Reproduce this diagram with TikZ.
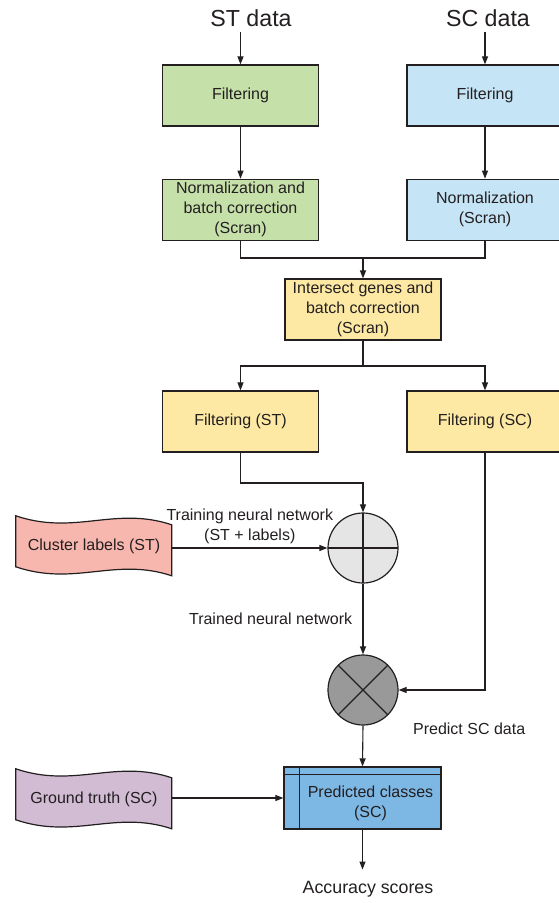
\documentclass[tikz,border=0pt]{standalone}
\usepackage{fontspec}
\setmainfont{Liberation Sans}
\usetikzlibrary{arrows.meta,positioning,calc,backgrounds}
\definecolor{inkgray}{RGB}{35,31,32}
\definecolor{stgreen}{RGB}{198,224,170}
\definecolor{scblue}{RGB}{197,228,245}
\definecolor{mergeyellow}{RGB}{253,233,164}
\definecolor{labelpink}{RGB}{248,183,174}
\definecolor{truthlilac}{RGB}{210,188,212}
\definecolor{predblue}{RGB}{125,183,228}
\definecolor{addgray}{RGB}{229,229,229}
\definecolor{mulgray}{RGB}{153,153,153}

% wavy input shape behind a node
\newcommand{\wavyback}[2]{%
  \begin{scope}[on background layer,shift={(#1.north west)}]
    \draw[draw=inkgray,line width=1.2pt,fill=#2] (0,-5) .. controls (59,15) and (99,-15) .. (156,4)
      -- (156,55) .. controls (99,36) and (59,66) .. (0,46) -- cycle;
  \end{scope}}

\begin{document}
\begin{tikzpicture}[x=1pt,y=-1pt,>={Triangle[length=8pt,width=6pt]},
          font=\fontsize{16}{20}\selectfont,text=inkgray,
          stepbox/.style={draw=inkgray,line width=1.2pt,minimum width=156pt,
                          minimum height=61pt,align=center,inner sep=2pt},
          wavy/.style={minimum width=156pt,minimum height=50pt,inner sep=0pt},
          junction/.style={circle,draw=inkgray,line width=1.2pt,
                           minimum size=70pt,inner sep=0pt},
          headtext/.style={font=\fontsize{23.2}{28}\selectfont,anchor=base,inner sep=5pt},
          flow/.style={draw=inkgray,line width=1.1pt}]
  \useasboundingbox (0,0) rectangle (558,903);

  % inputs
  \node[headtext] (sthead) at (251,26.7) {ST data};
  \node[headtext] (schead) at (488,26.7) {SC data};

  % preprocessing
  \node[stepbox,fill=stgreen] (filtst) at (240.5,95.5) {Filtering};
  \node[stepbox,fill=stgreen,below=52pt of filtst] (normst)
    {Normalization and\\batch correction\\(Scran)};
  \node[stepbox,fill=scblue] (filtsc) at (485,95.5) {Filtering};
  \node[stepbox,fill=scblue,below=52pt of filtsc] (normsc) {Normalization\\(Scran)};
  \node[stepbox,fill=mergeyellow] (inter) at (363,309.5)
    {Intersect genes and\\batch correction\\(Scran)};
  \node[stepbox,fill=mergeyellow] (filtst2) at (240.5,421.5) {Filtering (ST)};
  \node[stepbox,fill=mergeyellow] (filtsc2) at (485,421.5) {Filtering (SC)};

  % network
  \node[junction,fill=addgray,path picture={
      \draw[inkgray,line width=1.2pt]
        (path picture bounding box.north) -- (path picture bounding box.south)
        (path picture bounding box.west) -- (path picture bounding box.east);}]
    (plus) at (363,548) {};
  \node[junction,fill=mulgray,path picture={
      \draw[inkgray,line width=1.2pt]
        (path picture bounding box.north west) -- (path picture bounding box.south east)
        (path picture bounding box.north east) -- (path picture bounding box.south west);}]
    (times) at (363,690) {};

  \node[wavy] (clus) at (94,546) {Cluster labels (ST)};
  \node[wavy] (truth) at (94,799) {Ground truth (SC)};
  \wavyback{clus}{labelpink}
  \wavyback{truth}{truthlilac}

  \node[stepbox,fill=predblue,minimum width=157pt,minimum height=62pt] (pred) at (362.5,798) {};
  \draw[inkgray,line width=1.2pt]
    ([xshift=16pt]pred.north west) -- ([xshift=16pt]pred.south west)
    ([yshift=-8pt]pred.north west) -- ([yshift=-8pt]pred.north east);
  \node[align=center] (predtxt) at ($(pred.center)+(8,5)$) {Predicted classes\\(SC)};

  \node[anchor=base,font=\fontsize{17.8}{20}\selectfont,inner ysep=11pt] (acc)
    at (368,893) {Accuracy scores};

  % connectors
  \draw[flow,->] (sthead.south -| filtst.north) -- (filtst.north);
  \draw[flow,->] (schead.south -| filtsc.north) -- (filtsc.north);
  \draw[flow,->] (filtst) -- (normst);
  \draw[flow,->] (filtsc) -- (normsc);
  \coordinate (merge) at (363,258);
  \draw[flow] (normst.south) |- (merge) -| (normsc.south);
  \draw[flow,->] (merge) -- (inter.north);
  \coordinate (split) at (363,366);
  \draw[flow] (inter.south) -- (split);
  \draw[flow,->] (split) -| (filtst2.north);
  \draw[flow,->] (split) -| (filtsc2.north);
  \coordinate (trainin) at (363,483);
  \draw[flow,->] (filtst2.south) |- (trainin) -- (plus.north);
  \draw[flow,->] (clus.east |- plus.west) --
    node[above,align=center,inner sep=4pt] (trainlbl) {Training neural network\\(ST + labels)} (plus.west);
  \draw[flow,->] (plus.south) --
    node[left=7pt] (trainedlbl) {Trained neural network} (times.north);
  \draw[flow,->] (filtsc2.south) |- (times.east);
  \node[below right=29pt and 11pt of times.east] (predictlbl) {Predict SC data};
  \draw[flow,->] (times.south) -- (pred.north);
  \draw[flow,->] (truth.east |- pred.west) -- (pred.west);
  \draw[flow,->] (pred.south) -- (pred.south |- acc.north);
\end{tikzpicture}
\end{document}
